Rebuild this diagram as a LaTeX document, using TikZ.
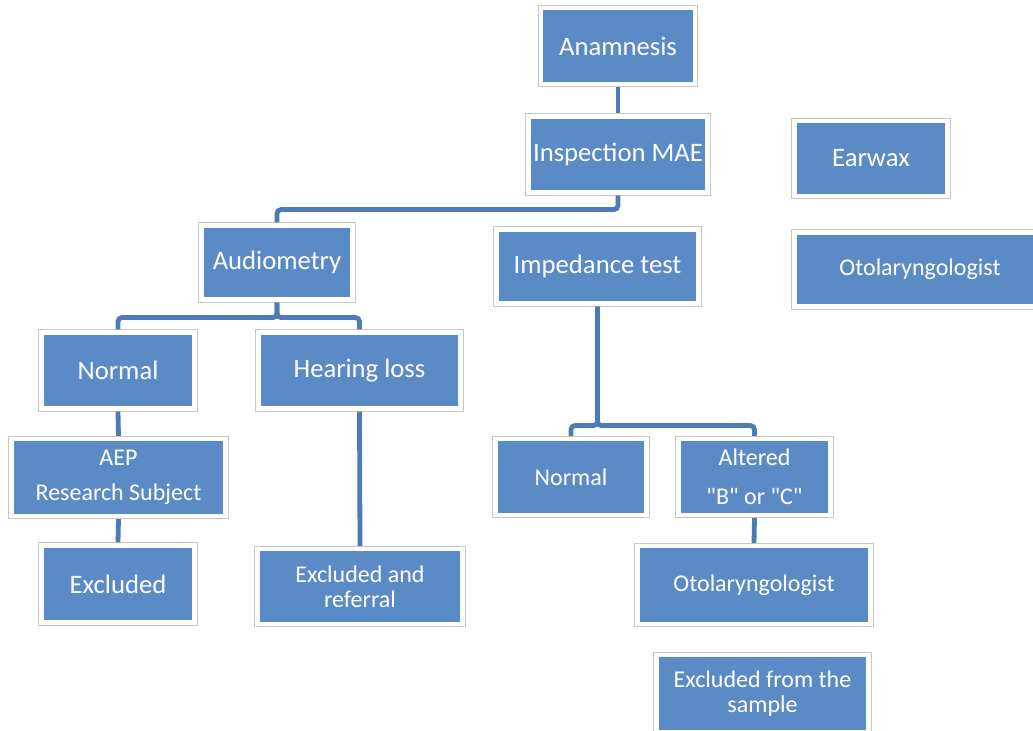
\documentclass[tikz,border=0pt]{standalone}
\usepackage{fontspec}
\setmainfont{Carlito}[Ligatures=TeXOff]
\definecolor{boxblue}{RGB}{91,139,198}
\definecolor{linkblue}{RGB}{76,123,183}

\tikzstyle{block} = [rectangle, fill=boxblue, draw=white, line width=3.4pt,
preaction={draw=black!22, line width=4.6pt}, text=white, align=center,
inner sep=0pt, outer sep=2.3pt, font=\fontsize{20}{21}\selectfont]
\tikzstyle{smallblock} = [block, font=\fontsize{18}{18.75}\selectfont]
\tikzstyle{line} = [draw=linkblue, line width=3.6pt, rounded corners=3pt]

\begin{document}
\begin{tikzpicture}[x=0.75pt, y=-0.75pt]
		\clip (0,0) rectangle (1033,731);
		\fill [white] (0,0) rectangle (1033,731);
		
		\node [block, minimum width=115.5pt, minimum height=57pt] (Anamnesis) at (618,46) {Anamnesis};
		\node [block, minimum width=134.25pt, minimum height=57pt] (Inspection) at (618,154.5) {Inspection MAE};
		\node [block, minimum width=114.75pt, minimum height=56.25pt] (Earwax) at (871,158.5) {Earwax};
		\node [smallblock, minimum width=188.25pt, minimum height=55.5pt] (OtoRight) at (920,269.5) {Otolaryngologist};
		
		\node [block, minimum width=113.25pt, minimum height=55.5pt] (Audiometry) at (277,262.5) {Audiometry};
		\node [block, minimum width=151.5pt, minimum height=55.5pt] (Impedance) at (597.5,266.5) {Impedance test};
		
		\node [block, minimum width=114.75pt, minimum height=57pt] (NormalAud) at (118,370.5) {Normal};
		\node [block, minimum width=151.5pt, minimum height=57pt] (HearingLoss) at (359.5,370.5) {Hearing loss};
		\node [smallblock, minimum width=160.5pt, minimum height=57.75pt] (AEP) at (118.5,477.5) {AEP\\[7.5pt]Research Subject};
		\node [block, minimum width=114.75pt, minimum height=57.75pt] (Excluded) at (118,584) {Excluded};
		\node [smallblock, minimum width=153.75pt, minimum height=56.25pt] (ExclReferral) at (360,586.5) {Excluded and\\referral};
		
		\node [smallblock, minimum width=113.25pt, minimum height=57pt] (NormalImp) at (571,477) {Normal};
		\node [smallblock, minimum width=114pt, minimum height=57pt] (Altered) at (754.5,477) {Altered\\[10.5pt]"B" or "C"};
		\node [smallblock, minimum width=174.75pt, minimum height=58.5pt] (OtoMid) at (754,585) {Otolaryngologist};
		\node [smallblock, minimum width=159pt, minimum height=57.75pt] (ExclSample) at (762.5,693.5) {Excluded from the\\sample};
		
		\path [line] (Anamnesis.south) -- (Inspection.north);
		\path [line] (Inspection.south) --++ (0,14) -| (Audiometry.north);
		\path [line] (Audiometry.south) --++ (0,15) -| (NormalAud.north);
		\path [line] (Audiometry.south) --++ (0,15) -| (HearingLoss.north);
		\path [line] (NormalAud.south) -- (AEP.north);
		\path [line] (AEP.south) -- (Excluded.north);
		\path [line] (HearingLoss.south) -- (ExclReferral.north);
		\path [line] (Impedance.south) --++ (0,119) -| (NormalImp.north);
		\path [line] (Impedance.south) --++ (0,119) -| (Altered.north);
		\path [line] (Altered.south) -- (OtoMid.north);
	\end{tikzpicture}
\end{document}
